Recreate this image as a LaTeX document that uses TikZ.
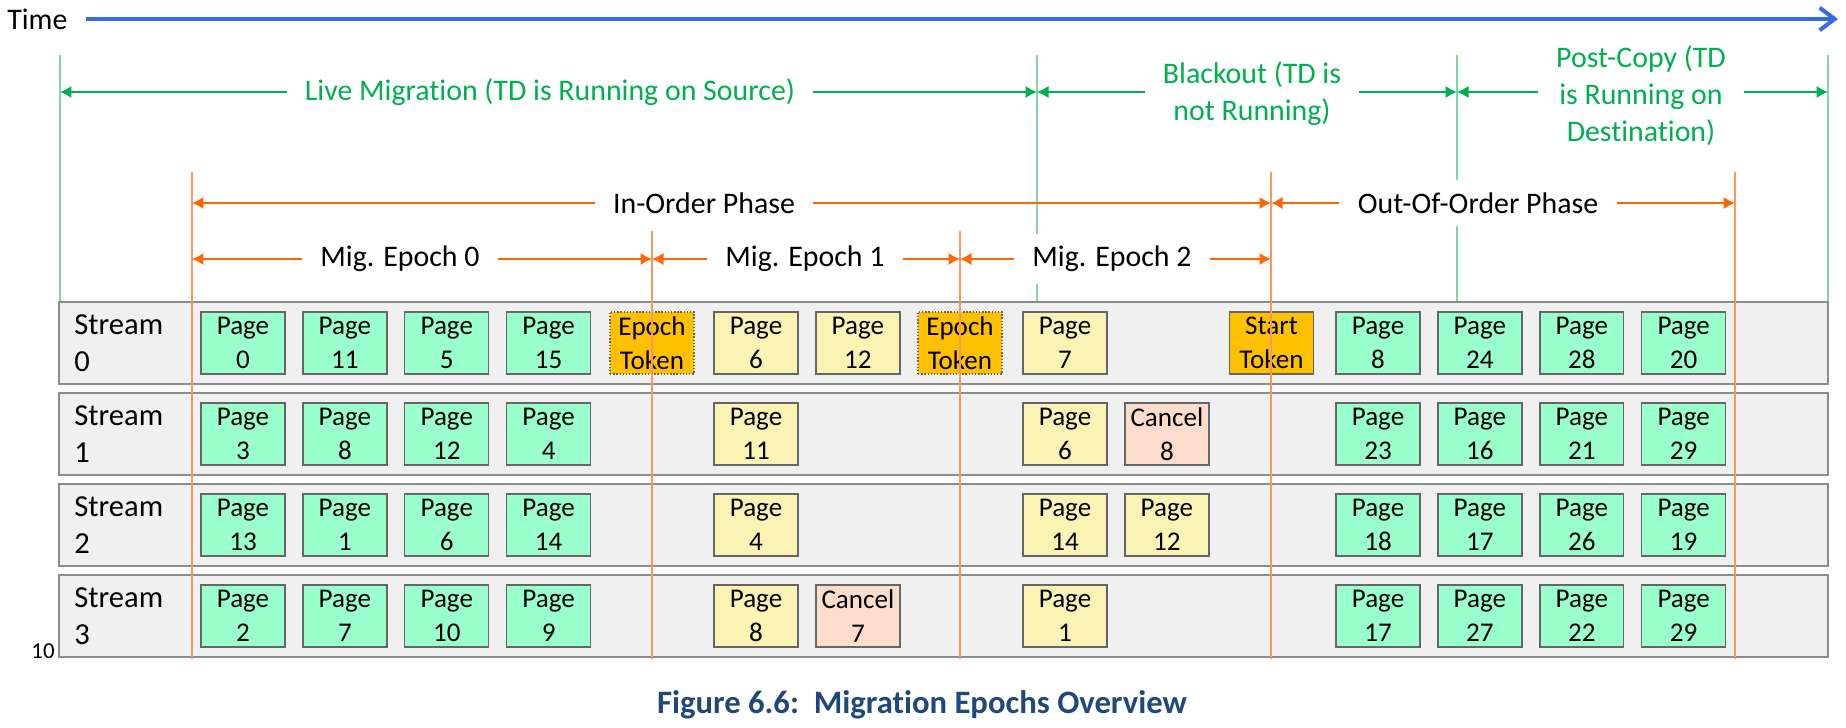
\documentclass[tikz,border=0pt]{standalone}
\usepackage{fontspec}
\setmainfont{Carlito}[Ligatures=NoCommon]
\usepackage{tikz}
\usetikzlibrary{positioning, calc}
\usetikzlibrary{arrows.meta}

\begin{document}
\begin{tikzpicture}
    [x=0.02cm, y=-0.02cm, node distance=0.33cm and 0.33cm,
    tarr/.style={-{Straight Barb[length=0.3cm,width=0.45cm]}, draw=tblue, line width=2.3pt},
    garr/.style={-{Latex[length=0.23cm,width=0.25cm]}, draw=mgreen, line width=1.2pt},
    oarr/.style={-{Latex[length=0.23cm,width=0.25cm]}, draw=morange, line width=1.2pt},
    gline/.style={draw=lgreen, line width=0.6pt},
    oline/.style={draw=lorange, line width=0.6pt},
    lbl/.style={fill=white, inner xsep=0.36cm, inner ysep=0.25cm, align=center, font=\fontsize{17}{21}\selectfont},
    row/.style={rectangle, draw=black!45, fill=black!6, line width=1.1pt, minimum width=35.39cm, minimum height=1.64cm},
    ob/.style={rectangle, draw=black!60, line width=0.8pt, minimum width=1.68cm, minimum height=1.24cm, inner sep=0pt, align=center, font=\fontsize{15.4}{19.5}\selectfont},
    pg/.style={ob, fill=pagegreen},
    pgy/.style={ob, fill=pageyellow},
    cx/.style={ob, fill=cancelpink},
    tok/.style={ob, fill=tokenorange},
    stm/.style={anchor=west, inner sep=0pt, align=left, font=\fontsize{17.4}{21}\selectfont}]
    \definecolor{mgreen}{RGB}{0,176,80};
    \definecolor{lgreen}{RGB}{130,215,160};
    \definecolor{morange}{RGB}{255,102,0};
    \definecolor{lorange}{RGB}{250,150,100};
    \definecolor{tblue}{RGB}{55,105,230};
    \definecolor{pagegreen}{RGB}{153,255,204};
    \definecolor{pageyellow}{RGB}{250,244,180};
    \definecolor{cancelpink}{RGB}{252,220,204};
    \definecolor{tokenorange}{RGB}{255,192,0};
    \definecolor{capblue}{RGB}{31,73,125};
    \useasboundingbox (0,0) rectangle (1846,727);

    % time axis
    \node [anchor=west, inner sep=0pt, font=\fontsize{17}{20}\selectfont] (Time) at (7,19) {Time};
    \coordinate (TimeEnd) at (1838,19);
    \draw [tarr] ($(Time.east)+(18,0)$) -- (TimeEnd);

    % green guide lines
    \coordinate (GT0) at (60,55);   \coordinate (GB0) at (60,302);
    \coordinate (GT1) at (1037,55); \coordinate (GB1) at (1037,302);
    \coordinate (GT2) at (1457,55); \coordinate (GB2) at (1457,302);
    \coordinate (GT3) at (1828,55); \coordinate (GB3) at (1828,302);
    \draw [gline] (GT0) -- (GB0);
    \draw [gline] (GT1) -- (GB1);
    \draw [gline] (GT2) -- (GB2);
    \draw [gline] (GT3) -- (GB3);

    % streams
    \node [row] (Row0) at (943.75,343) {};
    \node [row] (Row1) at (943.75,434) {};
    \node [row] (Row2) at (943.75,525) {};
    \node [row] (Row3) at (943.75,616) {};
    \node [stm] (Stream0) at (74,343) {Stream\\0};
    \node [stm] (Stream1) at (74,434) {Stream\\1};
    \node [stm] (Stream2) at (74,525) {Stream\\2};
    \node [stm] (Stream3) at (74,616) {Stream\\3};

    % stream 0
    \node [pg] (S0Page0) at (243,343) {Page\\0};
    \node [pg, right=of S0Page0] (S0Page11) {Page\\11};
    \node [pg, right=of S0Page11] (S0Page5) {Page\\5};
    \node [pg, right=of S0Page5] (S0Page15) {Page\\15};
    \node [tok, densely dotted] (S0Epoch1) at (652,343) {Epoch\\Token};
    \node [pgy] (S0Page6) at (756,343) {Page\\6};
    \node [pgy, right=of S0Page6] (S0Page12) {Page\\12};
    \node [tok, densely dotted] (S0Epoch2) at (960,343) {Epoch\\Token};
    \node [pgy] (S0Page7) at (1065,343) {Page\\7};
    \node [tok] (S0Start) at (1271.5,343) {Start\\Token};
    \node [pg] (S0Page8) at (1378,343) {Page\\8};
    \node [pg, right=of S0Page8] (S0Page24) {Page\\24};
    \node [pg, right=of S0Page24] (S0Page28) {Page\\28};
    \node [pg, right=of S0Page28] (S0Page20) {Page\\20};

    % stream 1
    \node [pg] (S1Page3) at (243,434) {Page\\3};
    \node [pg, right=of S1Page3] (S1Page8) {Page\\8};
    \node [pg, right=of S1Page8] (S1Page12) {Page\\12};
    \node [pg, right=of S1Page12] (S1Page4) {Page\\4};
    \node [pgy] (S1Page11) at (756,434) {Page\\11};
    \node [pgy] (S1Page6) at (1065,434) {Page\\6};
    \node [cx, right=of S1Page6] (S1Cancel8) {Cancel\\8};
    \node [pg] (S1Page23) at (1378,434) {Page\\23};
    \node [pg, right=of S1Page23] (S1Page16) {Page\\16};
    \node [pg, right=of S1Page16] (S1Page21) {Page\\21};
    \node [pg, right=of S1Page21] (S1Page29) {Page\\29};

    % stream 2
    \node [pg] (S2Page13) at (243,525) {Page\\13};
    \node [pg, right=of S2Page13] (S2Page1) {Page\\1};
    \node [pg, right=of S2Page1] (S2Page6) {Page\\6};
    \node [pg, right=of S2Page6] (S2Page14) {Page\\14};
    \node [pgy] (S2Page4) at (756,525) {Page\\4};
    \node [pgy] (S2Page14b) at (1065,525) {Page\\14};
    \node [pgy, right=of S2Page14b] (S2Page12) {Page\\12};
    \node [pg] (S2Page18) at (1378,525) {Page\\18};
    \node [pg, right=of S2Page18] (S2Page17) {Page\\17};
    \node [pg, right=of S2Page17] (S2Page26) {Page\\26};
    \node [pg, right=of S2Page26] (S2Page19) {Page\\19};

    % stream 3
    \node [pg] (S3Page2) at (243,616) {Page\\2};
    \node [pg, right=of S3Page2] (S3Page7) {Page\\7};
    \node [pg, right=of S3Page7] (S3Page10) {Page\\10};
    \node [pg, right=of S3Page10] (S3Page9) {Page\\9};
    \node [pgy] (S3Page8) at (756,616) {Page\\8};
    \node [cx, right=of S3Page8] (S3Cancel7) {Cancel\\7};
    \node [pgy] (S3Page1) at (1065,616) {Page\\1};
    \node [pg] (S3Page17) at (1378,616) {Page\\17};
    \node [pg, right=of S3Page17] (S3Page27) {Page\\27};
    \node [pg, right=of S3Page27] (S3Page22) {Page\\22};
    \node [pg, right=of S3Page22] (S3Page29) {Page\\29};

    % orange phase lines
    \coordinate (OT0) at (192,172);  \coordinate (OB0) at (192,659);
    \coordinate (OT1) at (652,231);  \coordinate (OB1) at (652,659);
    \coordinate (OT2) at (960,231);  \coordinate (OB2) at (960,659);
    \coordinate (OT3) at (1271,172); \coordinate (OB3) at (1271,659);
    \coordinate (OT4) at (1735,172); \coordinate (OB4) at (1735,659);
    \draw [oline] (OT0) -- (OB0);
    \draw [oline] (OT1) -- (OB1);
    \draw [oline] (OT2) -- (OB2);
    \draw [oline] (OT3) -- (OB3);
    \draw [oline] (OT4) -- (OB4);

    % running states
    \node [lbl, text=mgreen] (LiveMig) at (550,92) {Live Migration (TD is Running on Source)};
    \node [lbl, text=mgreen] (Blackout) at (1252,94) {Blackout (TD is\\not Running)};
    \node [lbl, text=mgreen] (PostCopy) at (1641,96) {Post-Copy (TD\\is Running on\\Destination)};
    \draw [garr] (LiveMig) -- (GT0 |- LiveMig);
    \draw [garr] (LiveMig) -- (GT1 |- LiveMig);
    \draw [garr] (Blackout.west |- LiveMig) -- (GT1 |- LiveMig);
    \draw [garr] (Blackout.east |- LiveMig) -- (GT2 |- LiveMig);
    \draw [garr] (PostCopy.west |- LiveMig) -- (GT2 |- LiveMig);
    \draw [garr] (PostCopy.east |- LiveMig) -- (GT3 |- LiveMig);

    % phases and epochs
    \node [lbl] (InOrder) at (704,203) {In-Order Phase};
    \node [lbl] (OutOfOrder) at (1478,203) {Out-Of-Order Phase};
    \node [lbl] (Epoch0) at (400,259) {Mig. Epoch 0};
    \node [lbl] (Epoch1) at (805,259) {Mig. Epoch 1};
    \node [lbl] (Epoch2) at (1112,259) {Mig. Epoch 2};
    \draw [oarr] (InOrder) -- (OT0 |- InOrder);
    \draw [oarr] (InOrder) -- (OT3 |- InOrder);
    \draw [oarr] (OutOfOrder) -- (OT3 |- OutOfOrder);
    \draw [oarr] (OutOfOrder) -- (OT4 |- OutOfOrder);
    \draw [oarr] (Epoch0) -- (OT0 |- Epoch0);
    \draw [oarr] (Epoch0) -- (OT1 |- Epoch0);
    \draw [oarr] (Epoch1) -- (OT1 |- Epoch1);
    \draw [oarr] (Epoch1) -- (OT2 |- Epoch1);
    \draw [oarr] (Epoch2) -- (OT2 |- Epoch2);
    \draw [oarr] (Epoch2) -- (OT3 |- Epoch2);

    % page number and caption
    \node [anchor=base east, inner sep=0pt, font=\fontsize{13}{15}\selectfont] (PageNo) at (55,658) {10};
    \node [anchor=base, font=\bfseries\fontsize{18.6}{22}\selectfont, text=capblue] (Caption) at (922,713) {Figure 6.6:\ \ Migration Epochs Overview};
\end{tikzpicture}
\end{document}
